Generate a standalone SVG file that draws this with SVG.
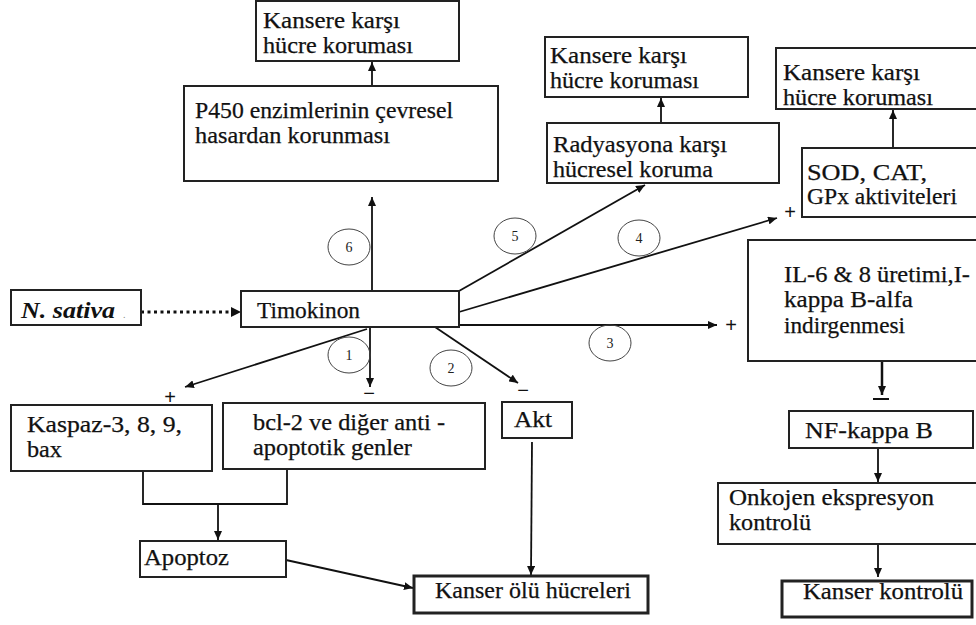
<svg xmlns="http://www.w3.org/2000/svg" width="976" height="625" viewBox="0 0 976 625">
<defs>
<marker id="ah" markerUnits="userSpaceOnUse" markerWidth="10" markerHeight="8" refX="9" refY="4" orient="auto">
<path d="M0,0 L9,4 L0,8 z" fill="#111"/>
</marker>
<style>
.box{fill:#fff;stroke:#222;stroke-width:2}
.thick{stroke-width:3}
.t{font-family:'Liberation Serif','DejaVu Serif',serif;font-size:23px;fill:#111;stroke:#111;stroke-width:0.25}
.c{fill:none;stroke:#111;stroke-width:1.8}
.ca{fill:none;stroke:#111;stroke-width:1.8;marker-end:url(#ah)}
.num{fill:none;stroke:#444;stroke-width:1}
.nt{font-family:'Liberation Serif','DejaVu Serif',serif;font-size:14px;fill:#222;text-anchor:middle}
.sg{font-family:'Liberation Sans','DejaVu Sans',sans-serif;font-size:20px;fill:#111;text-anchor:middle}
</style>
</defs>
<rect width="976" height="625" fill="#fff"/>

<g id="connectors">
<line x1="141" y1="312" x2="232" y2="312" stroke="#111" stroke-width="3" stroke-dasharray="3,3.5"/>
<path d="M231,307 L241,312 L231,317 z" fill="#111"/>
<line class="ca" x1="372" y1="291" x2="372" y2="197"/>
<line class="ca" x1="372" y1="86" x2="372" y2="62"/>
<line class="ca" x1="459" y1="291" x2="645" y2="185"/>
<line class="ca" x1="661" y1="123" x2="661" y2="98"/>
<line class="ca" x1="459" y1="312" x2="777" y2="218"/>
<line class="ca" x1="893" y1="148" x2="893" y2="110"/>
<line class="ca" x1="459" y1="325" x2="717" y2="325"/>
<line class="ca" x1="882" y1="361" x2="882" y2="395" style="stroke-width:2.5"/>
<line class="ca" x1="878" y1="448" x2="878" y2="482"/>
<line class="ca" x1="878" y1="544" x2="878" y2="577"/>
<line class="ca" x1="367" y1="329" x2="185" y2="387"/>
<line class="ca" x1="370" y1="327" x2="370" y2="387"/>
<line class="ca" x1="435" y1="327" x2="518" y2="383"/>
<line class="ca" x1="532" y1="442" x2="531" y2="575"/>
<polyline class="c" points="143,471 143,504 287,504 287,469"/>
<line class="ca" x1="218" y1="504" x2="218" y2="540"/>
<line class="ca" x1="286" y1="560" x2="413" y2="588"/>
<line x1="873" y1="399" x2="889" y2="399" stroke="#111" stroke-width="2"/>
</g>

<g id="signs">
<text class="sg" x="790" y="219">+</text>
<text class="sg" x="731" y="332">+</text>
<text class="sg" x="170" y="404">+</text>
<text class="sg" x="369" y="400">−</text>
<text class="sg" x="523" y="397">−</text>
</g>

<g id="circles">
<ellipse class="num" cx="349" cy="247" rx="21" ry="18"/><text class="nt" x="349" y="252">6</text>
<ellipse class="num" cx="515" cy="236" rx="21" ry="18"/><text class="nt" x="515" y="241">5</text>
<ellipse class="num" cx="639" cy="238" rx="21" ry="18"/><text class="nt" x="639" y="243">4</text>
<ellipse class="num" cx="610" cy="343" rx="21" ry="18"/><text class="nt" x="610" y="348">3</text>
<ellipse class="num" cx="349" cy="355" rx="21" ry="18"/><text class="nt" x="349" y="360">1</text>
<ellipse class="num" cx="451" cy="368" rx="21" ry="18"/><text class="nt" x="451" y="373">2</text>
</g>

<g id="kansere-top">
<rect class="box" x="256" y="1" width="203" height="60"/>
<text class="t" x="263" y="28" textLength="137" lengthAdjust="spacingAndGlyphs">Kansere karşı</text>
<text class="t" x="263" y="53" textLength="150" lengthAdjust="spacingAndGlyphs">hücre koruması</text>
</g>

<g id="p450">
<rect class="box" x="184" y="86" width="314" height="95"/>
<text class="t" x="195" y="118" textLength="258" lengthAdjust="spacingAndGlyphs">P450 enzimlerinin çevresel</text>
<text class="t" x="195" y="143" textLength="195" lengthAdjust="spacingAndGlyphs">hasardan korunması</text>
</g>

<g id="kansere-mid">
<rect class="box" x="545" y="37" width="203" height="60"/>
<text class="t" x="550" y="63" textLength="137" lengthAdjust="spacingAndGlyphs">Kansere karşı</text>
<text class="t" x="550" y="88" textLength="149" lengthAdjust="spacingAndGlyphs">hücre koruması</text>
</g>

<g id="radyasyon">
<rect class="box" x="547" y="123" width="232" height="60"/>
<text class="t" x="553" y="152" textLength="174" lengthAdjust="spacingAndGlyphs">Radyasyona karşı</text>
<text class="t" x="553" y="177" textLength="160" lengthAdjust="spacingAndGlyphs">hücresel koruma</text>
</g>

<g id="kansere-right">
<rect class="box" x="776" y="48" width="210" height="61"/>
<text class="t" x="783" y="80" textLength="137" lengthAdjust="spacingAndGlyphs">Kansere karşı</text>
<text class="t" x="783" y="105" textLength="150" lengthAdjust="spacingAndGlyphs">hücre koruması</text>
</g>

<g id="sod">
<rect class="box" x="802" y="148" width="184" height="69"/>
<text class="t" x="807" y="180" textLength="120" lengthAdjust="spacingAndGlyphs">SOD, CAT,</text>
<text class="t" x="807" y="204" textLength="150" lengthAdjust="spacingAndGlyphs">GPx aktiviteleri</text>
</g>

<g id="il6">
<rect class="box" x="748" y="240" width="238" height="121"/>
<text class="t" x="784" y="282" textLength="186" lengthAdjust="spacingAndGlyphs">IL-6 &amp; 8 üretimi,I-</text>
<text class="t" x="784" y="307" textLength="129" lengthAdjust="spacingAndGlyphs">kappa B-alfa</text>
<text class="t" x="784" y="333" textLength="121" lengthAdjust="spacingAndGlyphs">indirgenmesi</text>
</g>

<g id="nsativa">
<rect class="box" x="11" y="290" width="130" height="35"/>
<text class="t" x="21" y="318" textLength="94" lengthAdjust="spacingAndGlyphs" font-weight="bold" font-style="italic" style="stroke-width:0">N. sativa</text>
<text x="123" y="318" font-family="'Liberation Serif',serif" font-size="10" fill="#888">.</text>
</g>

<g id="timokinon">
<rect class="box" x="241" y="291" width="218" height="36"/>
<text class="t" x="257" y="318" textLength="103" lengthAdjust="spacingAndGlyphs">Timokinon</text>
</g>

<g id="kaspaz">
<rect class="box" x="11" y="405" width="201" height="66"/>
<text class="t" x="27" y="432" textLength="155" lengthAdjust="spacingAndGlyphs">Kaspaz-3, 8, 9,</text>
<text class="t" x="27" y="457" textLength="35" lengthAdjust="spacingAndGlyphs">bax</text>
</g>

<g id="bcl2">
<rect class="box" x="223" y="403" width="262" height="66"/>
<text class="t" x="253" y="430" textLength="192" lengthAdjust="spacingAndGlyphs">bcl-2 ve diğer anti -</text>
<text class="t" x="253" y="455" textLength="159" lengthAdjust="spacingAndGlyphs">apoptotik genler</text>
</g>

<g id="akt">
<rect class="box" x="502" y="402" width="70" height="36"/>
<text class="t" x="514" y="427" textLength="38" lengthAdjust="spacingAndGlyphs">Akt</text>
</g>

<g id="apoptoz">
<rect class="box" x="140" y="541" width="146" height="36"/>
<text class="t" x="144" y="565" textLength="85" lengthAdjust="spacingAndGlyphs">Apoptoz</text>
</g>

<g id="kanser-olu">
<rect class="box thick" x="414" y="576" width="234" height="37"/>
<text class="t" x="435" y="598" textLength="196" lengthAdjust="spacingAndGlyphs">Kanser ölü hücreleri</text>
</g>

<g id="nfkappab">
<rect class="box" x="789" y="411" width="184" height="37"/>
<text class="t" x="805" y="438" textLength="128" lengthAdjust="spacingAndGlyphs">NF-kappa B</text>
</g>

<g id="onkojen">
<rect class="box" x="718" y="483" width="268" height="61"/>
<text class="t" x="729" y="505" textLength="205" lengthAdjust="spacingAndGlyphs">Onkojen ekspresyon</text>
<text class="t" x="729" y="530" textLength="82" lengthAdjust="spacingAndGlyphs">kontrolü</text>
</g>

<g id="kanser-kontrolu">
<rect class="box thick" x="782" y="581" width="190" height="36"/>
<text class="t" x="803" y="599" textLength="160" lengthAdjust="spacingAndGlyphs">Kanser kontrolü</text>
</g>
</svg>
